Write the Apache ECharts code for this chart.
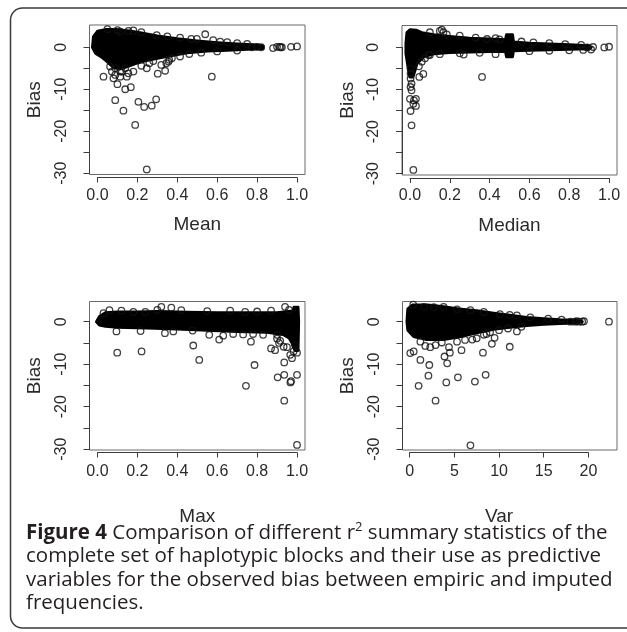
<!DOCTYPE html>
<html>
<head>
<meta charset="utf-8">
<script src="https://cdn.jsdelivr.net/npm/echarts@6/dist/echarts.min.js"></script>
<style>
html, body { margin: 0; padding: 0; background: #fff; }
#fig { width: 627px; height: 632px; }
</style>
</head>
<body>
<div id="fig"></div>
<script>
// tick values
var unitTicks = [0, 0.2, 0.4, 0.6, 0.8, 1.0];
var varTicks = [0, 5, 10, 15, 20];
var biasTicks = [0, -5, -10, -15, -20, -25, -30];
var biasLabels = [0, -10, -20, -30];

// Mean: outline of the solid black mass, then single circles
var meanCore = [[-0.025, 0.0], [-0.02, 2.5], [0.0, 3.8], [0.04, 4.2], [0.1, 4.2], [0.16, 3.9], [0.22, 3.4], [0.3, 2.7],
    [0.4, 2.0], [0.5, 1.5], [0.6, 1.1], [0.7, 0.8], [0.8, 0.55], [0.83, 0.3], [0.83, -0.3], [0.75, -0.5], [0.65, -0.7],
    [0.55, -0.9], [0.45, -1.3], [0.38, -1.9], [0.3, -2.6], [0.24, -3.2], [0.19, -3.9], [0.15, -4.6], [0.11, -5.2],
    [0.08, -4.8], [0.05, -3.5], [0.02, -2.3], [-0.01, -1.4]];
var meanPoints = [[0.05, 4.3], [0.1, 4.1], [0.155, 3.9], [0.114, 3.7], [0.18, 4.0], [0.22, 3.6], [0.297, 2.9], [0.35, 2.6],
    [0.414, 2.3], [0.47, 2.0], [0.498, 2.0], [0.54, 3.1], [0.58, 1.7], [0.615, 1.35], [0.65, 1.2], [0.7, 1.0], [0.75, 0.8],
    [0.774, 0], [0.8, 0.1], [0.82, 0], [0.88, -0.2], [0.9, 0.1], [0.912, 0.1], [0.918, 0], [0.924, 0], [0.97, 0.1], [1.0, 0.2],
    [0.03, -7.0], [0.063, -4.6], [0.072, -5.8], [0.08, -7.4], [0.089, -5.0], [0.089, -6.6], [0.1, -8.8], [0.114, -5.8],
    [0.114, -7.0], [0.122, -5.8], [0.139, -5.0], [0.139, -10.0], [0.147, -7.0], [0.155, -6.2], [0.167, -9.5], [0.18, -5.8],
    [0.089, -12.6], [0.13, -15.1], [0.189, -18.5], [0.247, -29.1], [0.205, -13.0], [0.234, -14.2], [0.272, -13.9],
    [0.294, -12.4], [0.247, -5.0], [0.302, -6.3], [0.339, -5.6], [0.573, -7.0], [0.32, -4.2], [0.356, -3.4], [0.373, -2.6],
    [0.414, -2.2], [0.36, -3.0], [0.345, -3.8], [0.26, -3.8], [0.22, -4.4], [0.28, -3.3], [0.46, -1.6], [0.52, -1.3],
    [0.6, -1.0], [0.7, -0.8]];

// Median
var medianCore = [[-0.02, 1.0], [-0.015, 3.5], [0.0, 4.2], [0.03, 4.1], [0.06, 3.5], [0.12, 3.0], [0.2, 2.6], [0.3, 2.2],
    [0.4, 2.0], [0.48, 1.8], [0.485, 3.0], [0.515, 3.0], [0.52, 1.3], [0.6, 1.0], [0.7, 0.8], [0.8, 0.6], [0.9, 0.4],
    [0.91, 0.0], [0.9, -0.3], [0.8, -0.45], [0.7, -0.55], [0.6, -0.65], [0.52, -0.8], [0.515, -2.2], [0.485, -2.2],
    [0.48, -0.9], [0.4, -1.0], [0.3, -1.1], [0.2, -1.2], [0.12, -1.5], [0.07, -2.2], [0.035, -3.8], [0.025, -5.5],
    [0.015, -7.0], [0.0, -7.0], [-0.01, -4.5], [-0.02, -1.5]];
var medianPoints = [[0.15, 3.9], [0.168, 3.6], [0.185, 3.1], [0.16, 4.2], [0.1, 3.6], [0.25, 2.8], [0.33, 2.3], [0.387, 2.0],
    [0.43, 2.2], [0.45, 1.9], [0.56, 1.4], [0.62, 1.2], [0.7, 1.0], [0.78, 0.8], [0.86, 0.6],
    [0.89, 0.0], [0.91, -0.5], [0.92, 0.1], [0.976, 0.0], [1.0, 0.15],
    [0.1, -1.8], [0.15, -1.6], [0.25, -1.4], [0.27, -1.7], [0.35, -1.3], [0.43, -1.6], [0.6, -0.9], [0.7, -0.8],
    [0.8, -0.7], [0.87, -0.6],
    [0.003, -5.0], [0.003, -6.2], [0.003, -7.4], [0.008, -8.6], [0.003, -9.4], [0.008, -10.2], [0.0, -12.2],
    [0.02, -12.6], [0.03, -12.2], [0.017, -13.4], [0.03, -13.9], [0.003, -15.1], [0.008, -18.5], [0.017, -29.1],
    [0.047, -7.0], [0.067, -6.3], [0.059, -3.4], [0.076, -2.6], [0.093, -1.8], [0.045, -4.5], [0.362, -7.0]];

// Max
var maxCore = [[-0.005, 0.0], [0.01, 1.2], [0.04, 2.1], [0.1, 2.3], [0.2, 2.3], [0.3, 2.4], [0.45, 2.2], [0.6, 2.1],
    [0.75, 2.1], [0.9, 2.1], [0.98, 2.5], [0.985, 3.4], [1.005, 3.4], [1.008, 0], [1.005, -6.8], [0.99, -6.8],
    [0.975, -5.0], [0.96, -3.8], [0.93, -3.0], [0.85, -2.5], [0.7, -2.3], [0.55, -2.0], [0.4, -1.7], [0.25, -1.5],
    [0.1, -1.3], [0.04, -1.1], [0.01, -0.8]];
var maxPoints = [[0.03, 2.0], [0.06, 2.7], [0.12, 2.6], [0.18, 2.3], [0.24, 2.3], [0.32, 3.5], [0.37, 3.3], [0.3, 2.8],
    [0.42, 2.7], [0.55, 2.5], [0.665, 2.6], [0.74, 2.3], [0.8, 2.4], [0.87, 2.6], [0.94, 3.5], [0.96, 2.8],
    [0.095, -2.3], [0.216, -2.2], [0.338, -2.7], [0.38, -2.3], [0.477, -2.1], [0.56, -3.1], [0.61, -4.2], [0.63, -3.3],
    [0.68, -2.9], [0.73, -3.0], [0.78, -2.9], [0.83, -3.1], [0.9, -3.1], [0.916, -4.5], [0.933, -5.9], [0.89, -6.7],
    [0.87, -6.3], [0.966, -7.8], [0.975, -8.6], [0.983, -7.0], [1.0, -7.3], [0.95, -6.0], [0.99, -5.5],
    [0.099, -7.3], [0.221, -7.0], [0.48, -5.6], [0.51, -9.0], [0.744, -15.1], [0.769, -4.7], [0.787, -10.2],
    [0.903, -13.1], [0.936, -12.5], [0.936, -9.6], [0.936, -18.6], [0.967, -14.3], [0.97, -14.0], [1.0, -12.5],
    [1.0, -29.0], [0.9, -4.0], [0.91, -5.0]];

// Var
var varCore = [[-0.3, 0.0], [-0.2, 3.0], [0.3, 3.9], [2.0, 3.9], [3.8, 3.5], [5.5, 3.0], [7.5, 2.6], [9.4, 2.0],
    [11.2, 1.5], [13.1, 1.0], [15.0, 0.7], [16.8, 0.45], [18.7, 0.3], [19.3, 0.0], [18.7, -0.3], [16.8, -0.4],
    [15.0, -0.6], [13.1, -0.9], [11.2, -1.3], [9.4, -1.8], [7.5, -2.6], [5.7, -3.5], [3.8, -4.2], [1.9, -4.2],
    [0.45, -3.5], [-0.2, -2.0]];
var varPoints = [[0.4, 4.0], [1.6, 3.5], [2.7, 3.4], [3.8, 3.5], [5.3, 2.9], [6.8, 2.7], [8.3, 2.3], [10.1, 1.8],
    [11.2, 1.6], [12.0, 1.5], [13.5, 1.0], [15.5, 0.7], [17.0, 0.5],
    [18.0, 0.0], [18.5, 0.0], [18.7, 0.1], [19.0, 0.0], [19.3, 0.0], [19.5, 0.1], [22.3, 0.0],
    [1.2, -4.7], [1.75, -5.7], [2.3, -6.0], [2.9, -5.5], [3.6, -4.9], [4.4, -6.0], [5.3, -4.7], [6.2, -4.3],
    [7.0, -4.2], [7.5, -3.9], [8.3, -3.1], [9.0, -2.5], [10.0, -2.0], [11.0, -1.6], [12.5, -1.2],
    [0.07, -7.4], [0.45, -7.0], [1.2, -9.0], [2.2, -10.2], [2.1, -12.7], [1.0, -15.1], [2.9, -18.6], [4.1, -14.3],
    [4.2, -9.8], [4.5, -7.3], [3.9, -8.2], [5.4, -13.1], [5.8, -6.7], [7.3, -14.1], [8.5, -12.5], [8.2, -7.3],
    [9.2, -5.2], [9.5, -3.8], [11.2, -5.9], [12.0, -2.3], [8.6, -2.9], [6.8, -29.1]];

var captionLines = [
    '{b|Figure 4} Comparison of different r{s|2} summary statistics of the',
    'complete set of haplotypic blocks and their use as predictive',
    'variables for the observed bias between empiric and imputed',
    'frequencies.'
];

// layout of the four panels (pixels)
var panels = [
    {title: 'Mean', core: meanCore, pts: meanPoints, ticks: unitTicks,
        left: 89.5, top: 25, width: 215.5, height: 149.5, xr: [-0.04, 1.04], yr: [-30.3, 5.3],
        axisY: 177.5, labelGap: 10, nameGap: 38},
    {title: 'Median', core: medianCore, pts: medianPoints, ticks: unitTicks,
        left: 402, top: 25.5, width: 215, height: 149.5, xr: [-0.04, 1.04], yr: [-30.3, 5.2],
        axisY: 178, labelGap: 10, nameGap: 38},
    {title: 'Max', core: maxCore, pts: maxPoints, ticks: unitTicks,
        left: 89.5, top: 301.5, width: 215.5, height: 148.5, xr: [-0.04, 1.04], yr: [-30.2, 4.75],
        axisY: 452.5, labelGap: 11, nameGap: 55},
    {title: 'Var', core: varCore, pts: varPoints, ticks: varTicks,
        left: 402.5, top: 301.5, width: 214.5, height: 148.5, xr: [-0.8, 23.2], yr: [-30.2, 4.75],
        axisY: 452.5, labelGap: 11, nameGap: 55}
];

var tickFont = {fontFamily: 'Liberation Sans', fontSize: 16, color: '#2a2a2a'};
var nameFont = {fontFamily: 'Liberation Sans', fontSize: 19, color: '#2a2a2a'};
var axisCol = '#3c3c3c';

var grid = [], xAxis = [], yAxis = [], series = [];

function coreRenderer(core) {
    return function (params, api) {
        if (params.dataIndex !== 0) return null;
        var pts = core.map(function (d) { return api.coord(d); });
        return {
            type: 'polygon',
            shape: {points: pts},
            style: {fill: '#000', stroke: '#000', lineWidth: 3, lineJoin: 'round'}
        };
    };
}

panels.forEach(function (p, i) {
    var t0 = p.ticks[0], t1 = p.ticks[p.ticks.length - 1];
    var sx = p.width / (p.xr[1] - p.xr[0]);
    var sy = p.height / (p.yr[1] - p.yr[0]);
    var x0 = p.left + (t0 - p.xr[0]) * sx;
    var yTop = p.top + (p.yr[1] - 0) * sy;
    var yBot = p.top + (p.yr[1] + 30) * sy;

    // main box holding the points
    grid.push({left: p.left, top: p.top, width: p.width, height: p.height,
        show: true, borderColor: '#6a6a6a', borderWidth: 1, backgroundColor: 'transparent'});
    // x axis strip spanning first..last tick
    grid.push({left: x0, top: p.axisY - 1, width: (t1 - t0) * sx, height: 1});
    // y axis strip spanning 0..-30
    grid.push({left: p.left, top: yTop, width: 1, height: yBot - yTop});

    var hidden = {axisLine: {show: false}, axisTick: {show: false}, axisLabel: {show: false}, splitLine: {show: false}};

    xAxis.push(Object.assign({gridIndex: 3 * i, type: 'value', min: p.xr[0], max: p.xr[1]}, hidden));
    xAxis.push({
        gridIndex: 3 * i + 1, type: 'value', min: t0, max: t1, position: 'bottom',
        name: p.title, nameLocation: 'middle', nameGap: p.nameGap, nameTextStyle: nameFont,
        axisLine: {show: true, lineStyle: {color: axisCol, width: 1}},
        axisTick: {show: true, length: 5, lineStyle: {color: axisCol}, customValues: p.ticks},
        axisLabel: Object.assign({margin: p.labelGap, customValues: p.ticks, hideOverlap: false,
            formatter: function (v) { return t1 === 1 ? v.toFixed(1) : String(v); }}, tickFont),
        splitLine: {show: false}
    });
    xAxis.push(Object.assign({gridIndex: 3 * i + 2, type: 'value', min: 0, max: 1}, hidden));

    yAxis.push(Object.assign({gridIndex: 3 * i, type: 'value', min: p.yr[0], max: p.yr[1],
        name: 'Bias', nameLocation: 'middle', nameGap: 45, nameTextStyle: nameFont}, hidden));
    yAxis.push(Object.assign({gridIndex: 3 * i + 1, type: 'value', min: 0, max: 1}, hidden));
    yAxis.push({
        gridIndex: 3 * i + 2, type: 'value', min: -30, max: 0, position: 'left',
        axisLine: {show: true, lineStyle: {color: axisCol, width: 1}},
        axisTick: {show: true, length: 6, lineStyle: {color: axisCol}, customValues: biasTicks},
        axisLabel: Object.assign({margin: 20, rotate: 90, customValues: biasLabels, hideOverlap: false}, tickFont),
        splitLine: {show: false}
    });

    series.push({
        type: 'custom', xAxisIndex: 3 * i, yAxisIndex: 3 * i, data: p.core,
        renderItem: coreRenderer(p.core), silent: true, z: 2
    });
    series.push({
        type: 'scatter', xAxisIndex: 3 * i, yAxisIndex: 3 * i, data: p.pts,
        symbol: 'circle', symbolSize: 6.5, silent: true, z: 3,
        itemStyle: {color: 'rgba(0,0,0,0)', borderColor: '#111', borderWidth: 1.3}
    });
});

var chart = echarts.init(document.getElementById('fig'));
chart.setOption({
    animation: false,
    backgroundColor: '#fff',
    grid: grid,
    xAxis: xAxis,
    yAxis: yAxis,
    series: series,
    graphic: [
        {type: 'rect', z: -10, silent: true,
            shape: {x: 10.5, y: 8, width: 640, height: 620, r: 12},
            style: {fill: 'none', stroke: '#3a3a3a', lineWidth: 1.5}},
        {type: 'text', left: 26, top: 521, silent: true,
            style: {
                text: captionLines.join('\n'),
                fontFamily: 'Open Sans', fontSize: 20.5, lineHeight: 23.5, fill: '#231f20',
                rich: {
                    b: {fontFamily: 'Open Sans', fontSize: 20.5, fontWeight: 'bold', fill: '#231f20'},
                    s: {fontFamily: 'Open Sans', fontSize: 13, fill: '#231f20', verticalAlign: 'top', padding: [0, 0, 9, 0]}
                }
            }}
    ]
});
</script>
</body>
</html>
